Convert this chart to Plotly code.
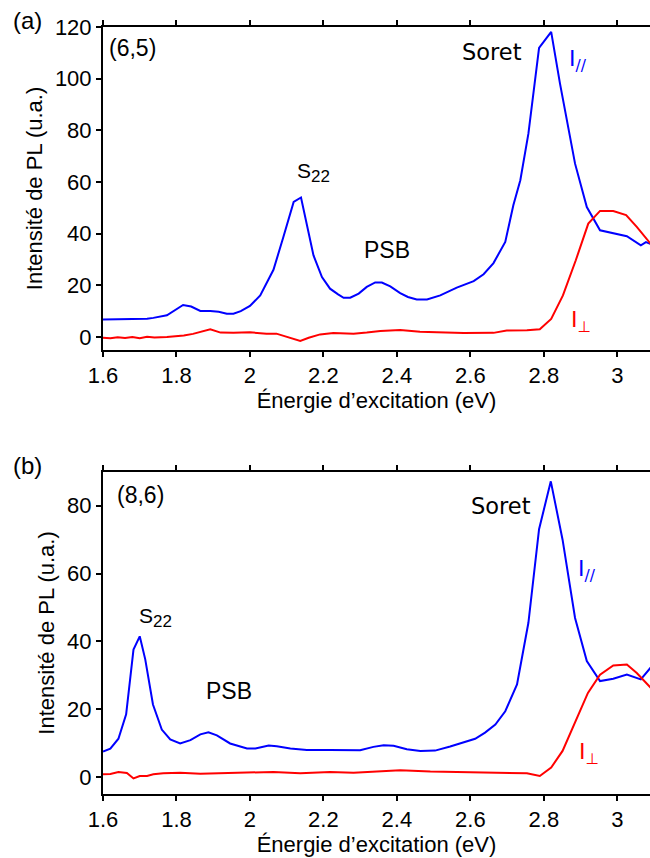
import plotly.graph_objects as go

# ---------------- data ----------------
x_tickvals = [1.6, 1.8, 2.0, 2.2, 2.4, 2.6, 2.8, 3.0]
x_ticktext = ["1.6", "1.8", "2", "2.2", "2.4", "2.6", "2.8", "3"]

# panel (a) : (6,5)
a_par_x = [1.600, 1.640, 1.680, 1.720, 1.737, 1.774, 1.800, 1.818, 1.840, 1.865, 1.892, 1.915, 1.937,
           1.955, 1.975, 2.000, 2.028, 2.064, 2.091, 2.119, 2.139, 2.155, 2.173, 2.196, 2.218, 2.240,
           2.255, 2.273, 2.296, 2.318, 2.341, 2.359, 2.382, 2.409, 2.430, 2.454, 2.482, 2.518, 2.563,
           2.609, 2.636, 2.663, 2.695, 2.717, 2.736, 2.758, 2.787, 2.820, 2.844, 2.885, 2.917, 2.953,
           2.989, 3.026, 3.064, 3.078, 3.100]
a_par_y = [6.8, 7.0, 7.0, 7.1, 7.4, 8.4, 10.8, 12.4, 11.8, 10.1, 10.1, 9.8, 9.0,
           9.0, 10.0, 12.0, 16.1, 26.0, 38.7, 52.3, 54.0, 44.0, 31.6, 23.2, 18.7, 16.5,
           15.2, 15.2, 16.8, 19.4, 21.1, 21.1, 19.6, 17.0, 15.5, 14.5, 14.5, 16.1, 19.1,
           21.6, 24.3, 28.6, 36.8, 51.0, 60.7, 78.7, 111.9, 118.1, 98.1, 67.1, 50.3, 41.3,
           40.3, 39.0, 35.5, 36.7, 35.5]

a_perp_x = [1.600, 1.620, 1.640, 1.660, 1.680, 1.700, 1.720, 1.740, 1.774, 1.800, 1.820, 1.845, 1.865,
            1.892, 1.920, 1.955, 2.000, 2.045, 2.072, 2.090, 2.110, 2.137, 2.160, 2.191, 2.227, 2.282,
            2.318, 2.355, 2.409, 2.463, 2.509, 2.582, 2.663, 2.699, 2.754, 2.789, 2.820, 2.852, 2.887,
            2.921, 2.953, 2.989, 3.024, 3.053, 3.100]
a_perp_y = [-0.3, -0.5, -0.1, -0.4, 0.0, -0.5, 0.1, -0.2, 0.0, 0.3, 0.6, 1.2, 1.9,
            3.0, 1.7, 1.6, 1.8, 1.3, 1.3, 0.5, -0.6, -1.5, -0.3, 1.0, 1.5, 1.3,
            1.7, 2.3, 2.7, 2.0, 1.8, 1.5, 1.6, 2.5, 2.6, 3.0, 7.0, 16.1, 29.7,
            43.9, 48.8, 48.8, 47.2, 42.6, 34.5]

# panel (b) : (8,6)
b_par_x = [1.600, 1.620, 1.642, 1.663, 1.683, 1.700, 1.715, 1.736, 1.760, 1.783, 1.810, 1.838, 1.865,
           1.887, 1.910, 1.946, 1.992, 2.015, 2.051, 2.073, 2.110, 2.155, 2.218, 2.245, 2.300, 2.336,
           2.364, 2.391, 2.427, 2.464, 2.504, 2.545, 2.581, 2.613, 2.640, 2.668, 2.695, 2.727, 2.758,
           2.787, 2.819, 2.851, 2.885, 2.917, 2.953, 2.989, 3.026, 3.064, 3.100]
b_par_y = [7.5, 8.4, 11.3, 18.5, 37.6, 41.5, 34.7, 21.4, 14.0, 11.1, 9.9, 10.9, 12.6,
           13.2, 12.3, 9.9, 8.4, 8.4, 9.3, 9.1, 8.4, 8.0, 8.0, 8.0, 7.9, 8.9,
           9.4, 9.2, 8.2, 7.7, 7.8, 9.0, 10.1, 11.3, 13.1, 15.5, 19.4, 27.3, 45.5,
           73.1, 87.2, 70.0, 46.9, 34.2, 28.3, 29.0, 30.2, 28.8, 33.5]

b_perp_x = [1.600, 1.620, 1.642, 1.665, 1.683, 1.700, 1.720, 1.737, 1.764, 1.810, 1.865, 1.955, 2.064,
            2.137, 2.218, 2.282, 2.373, 2.409, 2.491, 2.572, 2.663, 2.754, 2.789, 2.820, 2.851, 2.885,
            2.920, 2.953, 2.989, 3.026, 3.053, 3.100]
b_perp_y = [0.8, 0.9, 1.5, 1.2, -0.4, 0.3, 0.3, 0.8, 1.1, 1.3, 1.0, 1.2, 1.5,
            1.1, 1.5, 1.3, 1.9, 2.0, 1.6, 1.5, 1.3, 1.1, 0.3, 2.8, 7.7, 16.0,
            24.8, 30.2, 32.9, 33.2, 30.7, 25.3]

# ---------------- figure ----------------
BLUE = "#0000ff"
RED = "#ff0000"
HELV = "Liberation Sans, Arial, sans-serif"
DEJA = "DejaVu Sans, sans-serif"
TICKFONT = dict(family=HELV, size=22, color="black")

fig = go.Figure()
fig.add_trace(go.Scatter(x=a_par_x, y=a_par_y, mode="lines", line=dict(color=BLUE, width=2),
                         xaxis="x", yaxis="y", showlegend=False))
fig.add_trace(go.Scatter(x=a_perp_x, y=a_perp_y, mode="lines", line=dict(color=RED, width=2),
                         xaxis="x", yaxis="y", showlegend=False))
fig.add_trace(go.Scatter(x=b_par_x, y=b_par_y, mode="lines", line=dict(color=BLUE, width=2),
                         xaxis="x2", yaxis="y2", showlegend=False))
fig.add_trace(go.Scatter(x=b_perp_x, y=b_perp_y, mode="lines", line=dict(color=RED, width=2),
                         xaxis="x2", yaxis="y2", showlegend=False))

xcommon = dict(range=[1.6, 3.089], tickvals=x_tickvals, ticktext=x_ticktext,
               showline=True, linecolor="black", linewidth=2, mirror="ticks",
               ticks="outside", ticklen=5, tickwidth=1.5, tickcolor="black",
               showgrid=False, zeroline=False, tickfont=TICKFONT, automargin=False,
               title=dict(text="Énergie d’excitation (eV)", font=TICKFONT, standoff=5))
ycommon = dict(showline=True, linecolor="black", linewidth=2, mirror=False,
               ticks="outside", ticklen=5, tickwidth=1.5, tickcolor="black",
               showgrid=False, zeroline=False, tickfont=TICKFONT, automargin=False,
               title=dict(text="Intensité de PL (u.a.)", font=TICKFONT, standoff=6))

fig.update_layout(
    width=650, height=858,
    margin=dict(l=103, r=0, t=27, b=64),
    paper_bgcolor="white", plot_bgcolor="white",
    xaxis=dict(**xcommon, anchor="y", domain=[0, 1]),
    yaxis=dict(**ycommon, anchor="x", domain=[0.579, 1.0], range=[-5, 120], dtick=20),
    xaxis2=dict(**xcommon, anchor="y2", domain=[0, 1]),
    yaxis2=dict(**ycommon, anchor="x2", domain=[0.0, 0.42], range=[-5, 90], dtick=20),
)

def ann(text, x, y, xref, yref, color="black", size=23, xanchor="center", yanchor="middle", family=HELV):
    fig.add_annotation(text=text, x=x, y=y, xref=xref, yref=yref, showarrow=False,
                       xanchor=xanchor, yanchor=yanchor,
                       font=dict(family=family, size=size, color=color))

S22 = "S<sub><span style='font-size:17px'>22</span></sub>"
IPAR = "I<sub>//</sub>"
IPERP = "I<sub>⊥</sub>"

# panel (a)
ann("(6,5)", 1.612, 111.8, "x", "y", xanchor="left")
ann(S22, 2.173, 63.7, "x", "y", size=21)
ann("PSB", 2.374, 33.5, "x", "y")
ann("Soret", 2.659, 110.2, "x", "y", family=DEJA, size=22.5)
ann(IPAR, 2.894, 107.0, "x", "y", color=BLUE, family=DEJA, size=22)
ann(IPERP, 2.902, 6.0, "x", "y", color=RED, family=DEJA, size=22)
# panel (b)
ann("(8,6)", 1.634, 83.2, "x2", "y2", xanchor="left")
ann(S22, 1.742, 47.0, "x2", "y2", size=21)
ann("PSB", 1.944, 25.3, "x2", "y2")
ann("Soret", 2.684, 80.0, "x2", "y2", family=DEJA, size=22.5)
ann(IPAR, 2.918, 61.0, "x2", "y2", color=BLUE, family=DEJA, size=22)
ann(IPERP, 2.924, 6.8, "x2", "y2", color=RED, family=DEJA, size=22)

# panel letters
ann("(a)", -0.138, 1.009, "paper", "paper", size=24)
ann("(b)", -0.138, 0.428, "paper", "paper", size=24)

# remove the default 8 px page margin so the 650x858 figure fills the window exactly
fig.write_html("out.html", config={"displayModeBar": False},
               post_script="document.body.style.margin='0';document.body.style.overflow='hidden';")
